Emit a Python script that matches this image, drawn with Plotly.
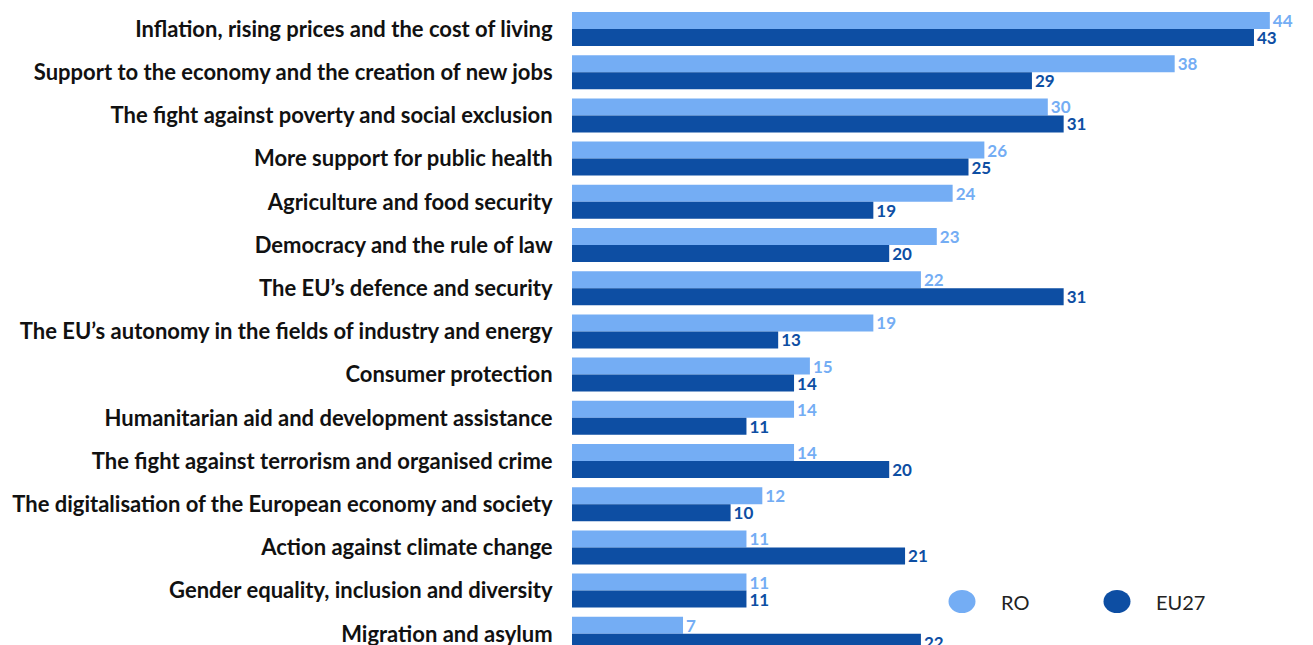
import plotly.graph_objects as go

categories = [
    "Inflation, rising prices and the cost of living",
    "Support to the economy and the creation of new jobs",
    "The fight against poverty and social exclusion",
    "More support for public health",
    "Agriculture and food security",
    "Democracy and the rule of law",
    "The EU\u2019s defence and security",
    "The EU\u2019s autonomy in the fields of industry and energy",
    "Consumer protection",
    "Humanitarian aid and development assistance",
    "The fight against terrorism and organised crime",
    "The digitalisation of the European economy and society",
    "Action against climate change",
    "Gender equality, inclusion and diversity",
    "Migration and asylum",
]
ro_values = [44, 38, 30, 26, 24, 23, 22, 19, 15, 14, 14, 12, 11, 11, 7]
eu27_values = [43, 29, 31, 25, 19, 20, 31, 13, 14, 11, 20, 10, 21, 11, 22]
series_names = ["RO", "EU27"]

RO_COLOR = "#74ADF4"
EU_COLOR = "#0D4EA3"
FONT = "Lato"

W, H = 1313, 645
LEFT = 572
PW = W - LEFT
px_per_unit = 15.86
pitch = 43.2
first_center = 29

fig = go.Figure()
for name, vals, col in [(series_names[0], ro_values, RO_COLOR), (series_names[1], eu27_values, EU_COLOR)]:
    fig.add_trace(go.Bar(
        y=categories, x=vals, name=name, orientation="h",
        marker=dict(color=col, line=dict(width=0)),
        text=vals, textposition="outside", cliponaxis=False, constraintext="none",
        textfont=dict(family=FONT, size=17, color=col, weight="bold"),
        showlegend=False, hoverinfo="x+y",
    ))

# manual legend (circles + labels) in paper coordinates
legend_px = [(962, 999), (1117, 1154)]
legend_py = 601.5
ly = 1 - legend_py / H
shapes, annotations = [], []
for (cx, tx), name, col in zip(legend_px, series_names, [RO_COLOR, EU_COLOR]):
    xf = (cx - LEFT) / PW
    shapes.append(dict(
        type="circle", xref="paper", yref="paper", xsizemode="pixel", ysizemode="pixel",
        xanchor=xf, yanchor=ly, x0=-13.5, x1=13.5, y0=-11.5, y1=11.5,
        fillcolor=col, line=dict(width=0), layer="above",
    ))
    annotations.append(dict(
        x=(tx - LEFT) / PW, y=ly, xref="paper", yref="paper", xanchor="left", yanchor="middle",
        text=name, showarrow=False, font=dict(family=FONT, size=20, color="#222222"),
    ))

top_idx = -first_center / pitch
bot_idx = (H - first_center) / pitch

fig.update_layout(
    width=W, height=H,
    margin=dict(l=LEFT, r=0, t=0, b=0, pad=0, autoexpand=False),
    paper_bgcolor="white", plot_bgcolor="white",
    barmode="group", bargap=1 - 34 / pitch, bargroupgap=0,
    font=dict(family=FONT, color="#111111"),
    showlegend=False,
    shapes=shapes, annotations=annotations,
    xaxis=dict(range=[0, PW / px_per_unit], autorange=False, visible=False, fixedrange=True),
    yaxis=dict(
        type="category", categoryorder="array", categoryarray=categories,
        range=[bot_idx, top_idx], autorange=False, showgrid=False, zeroline=False, showline=False,
        ticks="outside", ticklen=14, tickcolor="rgba(0,0,0,0)", automargin=False,
        tickfont=dict(family=FONT, size=22, color="#111111", weight="bold"),
        fixedrange=True,
    ),
)

fig.write_html("out.html", config={"displayModeBar": False},
               post_script="document.body.style.margin='0';")
